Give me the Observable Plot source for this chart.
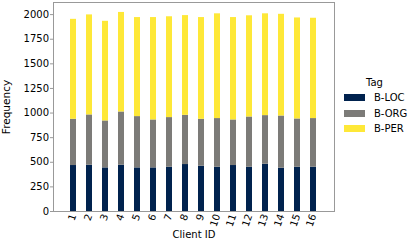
<!DOCTYPE html>
<html>
<head>
<meta charset="utf-8">
<script src="https://cdn.jsdelivr.net/npm/d3@7"></script>
<script src="https://cdn.jsdelivr.net/npm/@observablehq/plot@0.6"></script>
<style>
  html, body { margin: 0; padding: 0; background: #fff; }
  #wrap { position: relative; width: 415px; height: 243px; font-family: "DejaVu Sans", sans-serif; }
  #legend { position: absolute; left: 344px; top: 75px; font-size: 10px; color: #000; }
  #legend .title { height: 15.3px; line-height: 15.3px; padding-left: 22px; }
  #legend .row { display: flex; align-items: center; height: 15.3px; }
  #legend .sw { width: 21px; height: 7px; margin-right: 9px; }
</style>
</head>
<body>
<div id="wrap"></div>
<script>
const clients = ["1","2","3","4","5","6","7","8","9","10","11","12","13","14","15","16"];
const tags = ["B-LOC", "B-ORG", "B-PER"];
const tagColors = ["#00224e", "#7c7b78", "#fee838"];
const bLoc = [467, 470, 443, 470, 443, 443, 450, 477, 460, 450, 467, 450, 480, 440, 450, 450];
const bOrg = [470, 511, 477, 541, 521, 487, 504, 500, 477, 494, 463, 510, 494, 530, 490, 494];
const bPer = [1015, 1016, 1012, 1011, 1006, 1040, 1024, 1013, 1033, 1064, 1040, 1028, 1034, 1033, 1026, 1019];
const yTicks = [0, 250, 500, 750, 1000, 1250, 1500, 1750, 2000];
const legendTitle = "Tag";

const series = [bLoc, bOrg, bPer];
const data = [];
clients.forEach((c, i) => {
  tags.forEach((t, j) => data.push({client: c, tag: t, value: series[j][i]}));
});

const chart = Plot.plot({
  width: 415,
  height: 243,
  marginLeft: 53,
  marginRight: 81,
  marginTop: 2,
  marginBottom: 32,
  style: {fontFamily: "DejaVu Sans", fontSize: "10px", color: "#000", background: "#fff"},
  x: {type: "band", domain: clients, paddingInner: 0.6, paddingOuter: 0.79},
  y: {domain: [0, 2123]},
  color: {domain: tags, range: tagColors},
  marks: [
    Plot.barY(data, {x: "client", y: "value", fill: "tag", order: null}),
    Plot.frame({stroke: "#999"}),
    Plot.axisY({ticks: yTicks, tickFormat: d => String(d), tickSize: 3, tickPadding: 1.5, stroke: "#999", fill: "#000", label: null, fontSize: 10}),
    Plot.axisY({ticks: [], label: "Frequency", labelAnchor: "center", labelArrow: "none", labelOffset: 51, fontSize: 10.5}),
    Plot.axisX({tickSize: 0, tickPadding: 3, tickRotate: -70, label: null, fontSize: 10}),
    Plot.axisX({ticks: [], label: "Client ID", labelAnchor: "center", labelArrow: "none", labelOffset: 26, fontSize: 10})
  ]
});

const wrap = document.getElementById("wrap");
wrap.appendChild(chart);

const leg = document.createElement("div");
leg.id = "legend";
const title = document.createElement("div");
title.className = "title";
title.textContent = legendTitle;
leg.appendChild(title);
tags.forEach((t, i) => {
  const row = document.createElement("div");
  row.className = "row";
  const sw = document.createElement("div");
  sw.className = "sw";
  sw.style.background = tagColors[i];
  const lab = document.createElement("span");
  lab.textContent = t;
  row.appendChild(sw);
  row.appendChild(lab);
  leg.appendChild(row);
});
wrap.appendChild(leg);
</script>
</body>
</html>
